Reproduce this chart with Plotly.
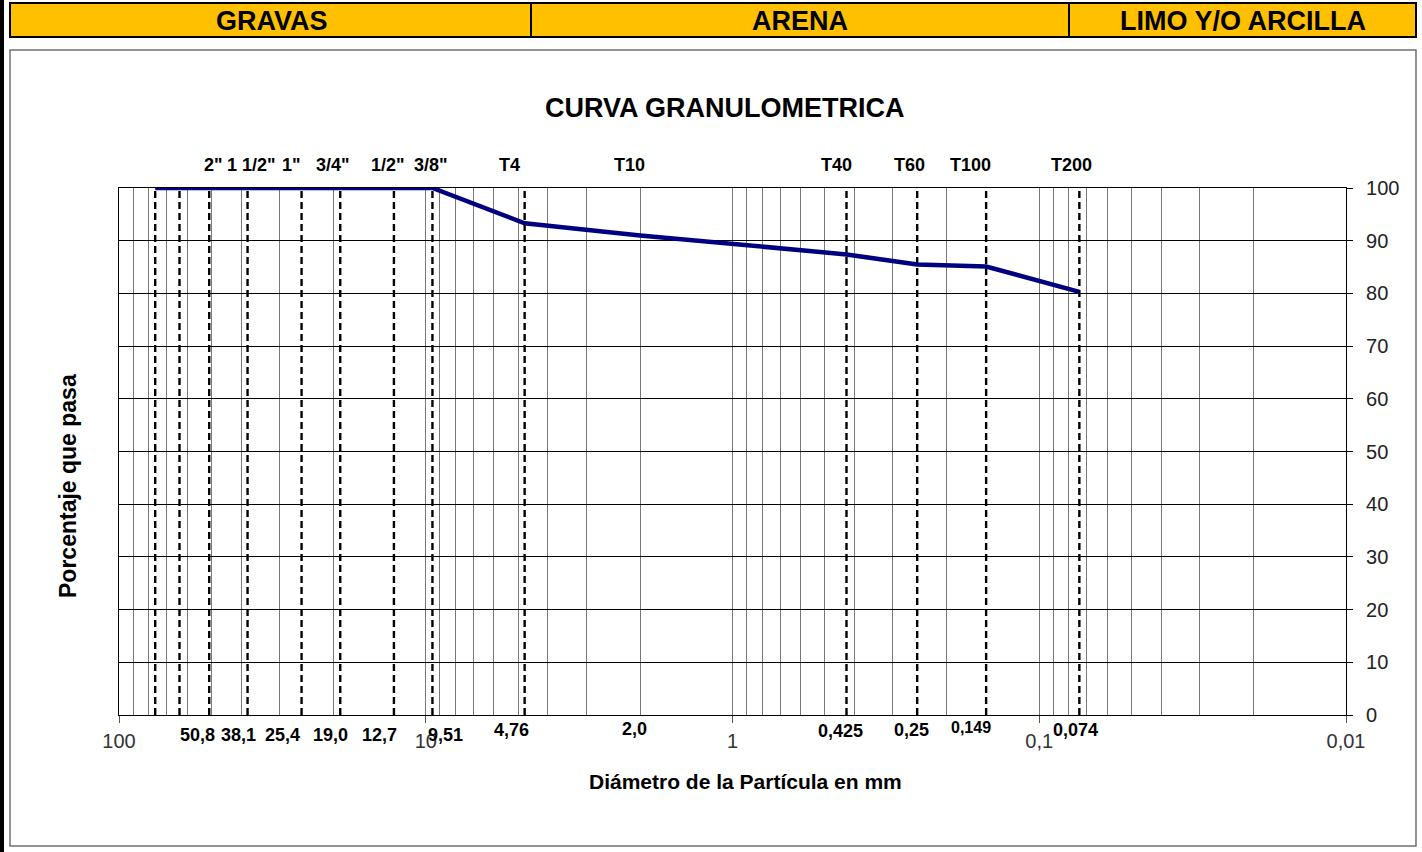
import math
import plotly.graph_objects as go

# ---------------- data ----------------
sieve_names = ['3"', '2 1/2"', '2"', '1 1/2"', '1"', '3/4"', '1/2"', '3/8"',
               'T4', 'T10', 'T40', 'T60', 'T100', 'T200']
sieve_mm = [76.2, 63.5, 50.8, 38.1, 25.4, 19.0, 12.7, 9.51,
            4.76, 2.0, 0.425, 0.25, 0.149, 0.074]
passing = [100, 100, 100, 100, 100, 100, 100, 100,
           93.3, 91.0, 87.4, 85.5, 85.1, 80.3]
size_labels = ['', '', '50,8', '38,1', '25,4', '19,0', '12,7', '9,51',
               '4,76', '2,0', '0,425', '0,25', '0,149', '0,074']
dashed_sieves = [76.2, 63.5, 50.8, 38.1, 25.4, 19.0, 12.7, 9.51,
                 4.76, 0.425, 0.25, 0.149, 0.074]
x_tickvals = [100, 10, 1, 0.1, 0.01]
x_ticktext = ['100', '10', '1', '0,1', '0,01']
y_tickvals = list(range(0, 101, 10))
zones = ['GRAVAS', 'ARENA', 'LIMO Y/O ARCILLA']

# ---------------- styles / layout geometry ----------------
W, H = 1422, 852
ML, MR, MT, MB = 119, 76, 188, 137
PW, PH = W - ML - MR, H - MT - MB
FONT = 'Liberation Sans, Arial, sans-serif'

def pxx(x):
    return (x - ML) / PW

def pxy(y):
    return (H - MB - y) / PH

top_shift = [0, 0, 4, 4, -10, -7, -6, -1, -15, -11, -10, -8, -16, -8]
bot_shift = [0, 0, -12, -9, -19, -10, -14, 13, -13, -6, -6, -6, -15, -4]
bot_y = [735, 735, 735, 735, 735, 735, 735, 735, 730, 729, 731, 730, 727, 730]
bot_size = [18, 18, 18, 18, 18, 18, 18, 18, 18, 18, 18, 18, 16, 18]

minor_vals = []
for d in [10, 1, 0.1, 0.01]:
    for k in range(2, 10):
        minor_vals.append(d * k)

fig = go.Figure()

# dashed sieve lines
dx, dy = [], []
for v in dashed_sieves:
    dx += [v, v, None]
    dy += [0, 100, None]
fig.add_trace(go.Scatter(x=dx, y=dy, mode='lines',
                         line=dict(color='black', width=2.4, dash='7px,4px'),
                         hoverinfo='skip'))

# grading curve
fig.add_trace(go.Scatter(x=sieve_mm, y=passing, mode='lines',
                         line=dict(color='#000080', width=4.5)))

annotations = []
# sieve names on top
for name, v, s in zip(sieve_names, sieve_mm, top_shift):
    if name in ('3"', '2 1/2"'):
        continue
    annotations.append(dict(x=math.log10(v), xref='x', y=pxy(165), yref='paper',
                            text='<b>%s</b>' % name, showarrow=False, xshift=s,
                            xanchor='center', yanchor='middle',
                            font=dict(family=FONT, size=18, color='black')))
# sizes at bottom
for lab, v, s, yy, fs in zip(size_labels, sieve_mm, bot_shift, bot_y, bot_size):
    if not lab:
        continue
    annotations.append(dict(x=math.log10(v), xref='x', y=pxy(yy), yref='paper',
                            text='<b>%s</b>' % lab, showarrow=False, xshift=s,
                            xanchor='center', yanchor='middle',
                            font=dict(family=FONT, size=fs, color='black')))
# titles
annotations.append(dict(x=pxx(725), y=pxy(108), xref='paper', yref='paper',
                        text='<b>CURVA GRANULOMETRICA</b>', showarrow=False,
                        xanchor='center', yanchor='middle',
                        font=dict(family=FONT, size=27, color='black')))
annotations.append(dict(x=pxx(745), y=pxy(781), xref='paper', yref='paper',
                        text='<b>Diámetro de la Partícula en mm</b>', showarrow=False,
                        xanchor='center', yanchor='middle',
                        font=dict(family=FONT, size=21, color='black')))
annotations.append(dict(x=pxx(68), y=pxy(486), xref='paper', yref='paper',
                        text='<b>Porcentaje que pasa</b>', showarrow=False,
                        textangle=-90, xanchor='center', yanchor='middle',
                        font=dict(family=FONT, size=23, color='black')))
# header zone names
for z, cx in zip(zones, [272, 800, 1243]):
    annotations.append(dict(x=pxx(cx), y=pxy(21), xref='paper', yref='paper',
                            text='<b>%s</b>' % z, showarrow=False,
                            xanchor='center', yanchor='middle',
                            font=dict(family=FONT, size=27, color='black')))

shapes = [
    # left black bar
    dict(type='rect', xref='paper', yref='paper', x0=pxx(0), x1=pxx(4),
         y0=pxy(852), y1=pxy(0), fillcolor='black', line=dict(width=0), layer='above'),
    # chart frame
    dict(type='rect', xref='paper', yref='paper', x0=pxx(10), x1=pxx(1416),
         y0=pxy(846), y1=pxy(50), line=dict(color='#707070', width=1.5), layer='below'),
    # header band
    dict(type='rect', xref='paper', yref='paper', x0=pxx(10), x1=pxx(1416),
         y0=pxy(37), y1=pxy(3), fillcolor='#FFC000', line=dict(color='black', width=2),
         layer='above'),
    dict(type='line', xref='paper', yref='paper', x0=pxx(531), x1=pxx(531),
         y0=pxy(37), y1=pxy(3), line=dict(color='black', width=2)),
    dict(type='line', xref='paper', yref='paper', x0=pxx(1069), x1=pxx(1069),
         y0=pxy(37), y1=pxy(3), line=dict(color='black', width=2)),
]

fig.update_layout(
    width=W, height=H, autosize=False,
    margin=dict(l=ML, r=MR, t=MT, b=MB, pad=0),
    paper_bgcolor='white', plot_bgcolor='white',
    showlegend=False,
    annotations=annotations, shapes=shapes,
    xaxis=dict(type='log', range=[2, -2], autorange=False,
               tickmode='array', tickvals=x_tickvals, ticktext=x_ticktext,
               ticks='outside', ticklen=7, tickcolor='#555', tickwidth=1,
               ticklabelstandoff=1,
               tickfont=dict(family=FONT, size=20, color='#333'),
               showgrid=True, gridcolor='#7a7a7a', gridwidth=1.2,
               showline=True, linecolor='black', linewidth=1.2, mirror=True,
               zeroline=False,
               minor=dict(tickmode='array', tickvals=minor_vals, showgrid=True,
                          gridcolor='#7a7a7a', gridwidth=1.2, ticks='')),
    yaxis=dict(range=[0, 100], autorange=False, side='right',
               tickmode='array', tickvals=y_tickvals,
               ticks='outside', ticklen=6, tickcolor='black', tickwidth=1,
               ticklabelstandoff=9,
               tickfont=dict(family=FONT, size=20, color='#222'),
               showgrid=True, gridcolor='black', gridwidth=1,
               showline=True, linecolor='black', linewidth=1.2, mirror=True,
               zeroline=False),
)

fig.write_html('out.html', config={'displayModeBar': False},
               post_script="document.body.style.margin='0';document.body.style.padding='0';")
